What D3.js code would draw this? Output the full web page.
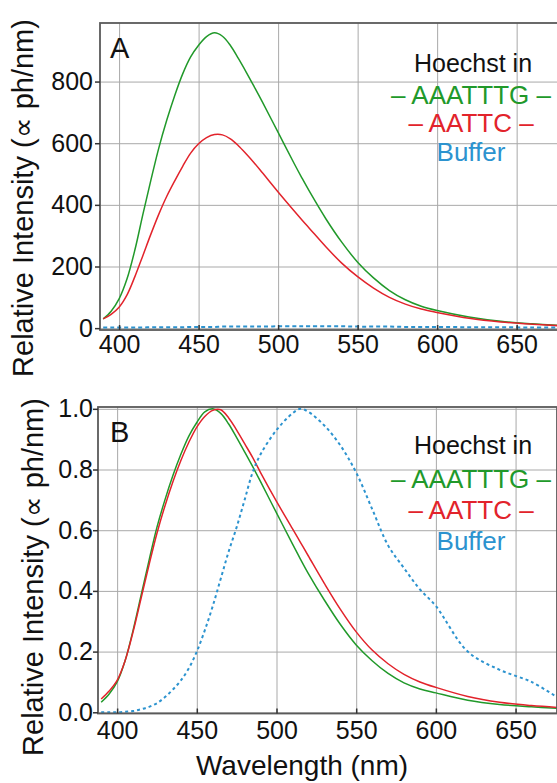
<!DOCTYPE html>
<html>
<head>
<meta charset="utf-8">
<script src="https://cdn.jsdelivr.net/npm/d3@7"></script>
<style>
  body { margin: 0; background: #fff; }
  svg { display: block; font-family: "Liberation Sans", Arial, sans-serif; }
</style>
</head>
<body>
<svg id="chart" width="557" height="783"></svg>
<script>
// wavelength grid (nm)
const wavelengths = [390, 395, 400, 405, 410, 415, 420, 425, 430, 435, 440, 445, 450, 455, 460, 465, 470, 475, 480, 485, 490,
  500, 510, 515, 520, 530, 540, 550, 560, 570, 580, 590, 600, 620, 640, 660, 676];

// panel A : absolute intensity
const absAAATTTG = [30, 55, 95, 160, 255, 370, 480, 585, 675, 755, 825, 880, 918, 946, 958, 947, 917, 875, 830, 783, 735,
  635, 535, 487, 441, 355, 279, 214, 163, 122, 92, 71, 57, 36, 22, 14, 9];
const absAATTC = [30, 45, 68, 108, 168, 236, 305, 370, 428, 478, 525, 568, 598, 618, 628, 627, 614, 592, 565, 536, 505,
  442, 381, 351, 322, 264, 211, 167, 130, 100, 78, 62, 51, 32, 20, 13, 8];
const absBuffer = [2, 2, 2, 2, 2, 2, 3, 3, 3, 3, 3, 4, 4, 4, 4, 5, 5, 5, 5, 5, 5,
  6, 6, 6, 6, 6, 6, 5, 5, 5, 4, 4, 4, 3, 3, 2, 2];

// panel B : normalised
const normAAATTTG = [0.033, 0.06, 0.10, 0.17, 0.27, 0.385, 0.50, 0.61, 0.70, 0.78, 0.85, 0.91, 0.955, 0.99, 1.0, 0.985, 0.95, 0.905, 0.858, 0.81, 0.76,
  0.657, 0.555, 0.505, 0.457, 0.37, 0.29, 0.222, 0.17, 0.128, 0.097, 0.077, 0.064, 0.040, 0.026, 0.018, 0.013];
const normAATTC = [0.044, 0.07, 0.105, 0.17, 0.265, 0.375, 0.485, 0.59, 0.68, 0.76, 0.83, 0.89, 0.94, 0.975, 0.995, 0.997, 0.97, 0.93, 0.885, 0.84, 0.79,
  0.695, 0.605, 0.56, 0.515, 0.425, 0.34, 0.265, 0.205, 0.16, 0.125, 0.10, 0.082, 0.052, 0.033, 0.022, 0.016];
const normBuffer = [0, 0, 0, 0.002, 0.004, 0.01, 0.018, 0.03, 0.05, 0.075, 0.105, 0.145, 0.20, 0.27, 0.35, 0.44, 0.53, 0.61, 0.70, 0.79, 0.85,
  0.93, 0.985, 1.0, 0.99, 0.945, 0.88, 0.79, 0.67, 0.55, 0.475, 0.405, 0.35, 0.20, 0.14, 0.10, 0.05];

const xTicks = [400, 450, 500, 550, 600, 650];
const yTicksA = [0, 200, 400, 600, 800];
const yTicksB = [0, 0.2, 0.4, 0.6, 0.8, 1.0];

const legendTitle = "Hoechst in";
const seriesNames = ["\u2013 AAATTTG \u2013", "\u2013 AATTC \u2013", "Buffer"];
const colors = ["#21992a", "#e2232b", "#2c93cf"];

const yTitle = "Relative Intensity (\u221d ph/nm)";
const xTitle = "Wavelength (nm)";

const svg = d3.select("#chart");

function drawPanel(p) {
  const x = d3.scaleLinear().domain([388, 676]).range([p.left, p.right]);
  const y = d3.scaleLinear().domain(p.yDomain).range([p.bottom, p.top]);
  const g = svg.append("g");

  const clipId = "clip-" + p.label;
  g.append("clipPath").attr("id", clipId)
    .append("rect")
    .attr("x", p.left).attr("y", p.top)
    .attr("width", p.right - p.left).attr("height", p.bottom - p.top);

  // grid
  g.append("g")
    .attr("transform", `translate(0,${p.bottom})`)
    .call(d3.axisBottom(x).tickValues(xTicks).tickSize(-(p.bottom - p.top)).tickFormat(""))
    .call((s) => s.select(".domain").remove())
    .selectAll("line").attr("stroke", "#a9a9a9").attr("stroke-width", 1);
  g.append("g")
    .attr("transform", `translate(${p.left},0)`)
    .call(d3.axisLeft(y).tickValues(p.yTicks).tickSize(-(p.right - p.left)).tickFormat(""))
    .call((s) => s.select(".domain").remove())
    .selectAll("line").attr("stroke", "#a9a9a9").attr("stroke-width", 1);

  // curves
  const line = d3.line()
    .x((d) => x(d[0]))
    .y((d) => y(d[1]))
    .curve(d3.curveCatmullRom.alpha(0.5));
  const lines = g.append("g").attr("clip-path", `url(#${clipId})`);
  p.series.forEach((vals, i) => {
    lines.append("path")
      .datum(wavelengths.map((w, j) => [w, vals[j]]))
      .attr("fill", "none")
      .attr("stroke", colors[i])
      .attr("stroke-width", i === 2 ? 2 : 1.5)
      .attr("stroke-dasharray", i === 2 ? p.dash : null)
      .attr("d", line);
  });

  // frame
  g.append("rect")
    .attr("x", p.left).attr("y", p.top)
    .attr("width", p.right - p.left).attr("height", p.bottom - p.top)
    .attr("fill", "none").attr("stroke", "#5a5a5a").attr("stroke-width", 1.8);

  // axes
  const xAxis = g.append("g")
    .attr("transform", `translate(0,${p.bottom})`)
    .call(d3.axisBottom(x).tickValues(xTicks).tickSize(-5).tickPadding(0));
  xAxis.select(".domain").remove();
  xAxis.selectAll("line").attr("stroke", "#333").attr("stroke-width", 1.5);
  xAxis.selectAll("text")
    .attr("y", p.xLabelDy).attr("dy", null)
    .attr("fill", "#111").attr("font-size", 25);

  const yAxis = g.append("g")
    .attr("transform", `translate(${p.left},0)`)
    .call(d3.axisLeft(y).tickValues(p.yTicks).tickSize(5).tickPadding(p.yPad).tickFormat(p.yFmt));
  yAxis.select(".domain").remove();
  yAxis.selectAll("line").attr("stroke", "#333").attr("stroke-width", 1.5);
  yAxis.selectAll("text").attr("fill", "#111").attr("font-size", 25);

  // panel letter
  g.append("text")
    .attr("x", 110).attr("y", p.labelY)
    .attr("font-size", 29).attr("fill", "#111")
    .text(p.label);

  // legend
  const lg = g.append("g").attr("text-anchor", "middle");
  lg.append("text").attr("x", 473).attr("y", p.legendY[0])
    .attr("font-size", 25).attr("fill", "#111").text(legendTitle);
  seriesNames.forEach((n, i) => {
    lg.append("text").attr("x", 471).attr("y", p.legendY[i + 1])
      .attr("font-size", 26).attr("fill", colors[i]).text(n);
  });

  // y title
  g.append("text")
    .attr("transform", `translate(${p.titleX},${p.titleY}) rotate(-90)`)
    .attr("text-anchor", "middle")
    .attr("font-size", 29).attr("fill", "#111")
    .text(yTitle);

  return x;
}

drawPanel({
  label: "A", left: 100, right: 558, top: 23, bottom: 330,
  yDomain: [-6, 990], yTicks: yTicksA, yFmt: d3.format("d"), yPad: 2,
  series: [absAAATTTG, absAATTC, absBuffer], dash: "4,3",
  labelY: 58, legendY: [72, 104, 132, 161], xLabelDy: 23,
  titleX: 33, titleY: 198
});

drawPanel({
  label: "B", left: 98, right: 557, top: 407, bottom: 713.5,
  yDomain: [-0.004, 1.006], yTicks: yTicksB, yFmt: d3.format(".1f"), yPad: 0,
  series: [normAAATTTG, normAATTC, normBuffer], dash: "3,3",
  labelY: 442, legendY: [454, 488, 519, 550], xLabelDy: 25,
  titleX: 43, titleY: 577
});

svg.append("text")
  .attr("x", 302).attr("y", 775)
  .attr("text-anchor", "middle")
  .attr("font-size", 28).attr("fill", "#111")
  .text(xTitle);
</script>
</body>
</html>
